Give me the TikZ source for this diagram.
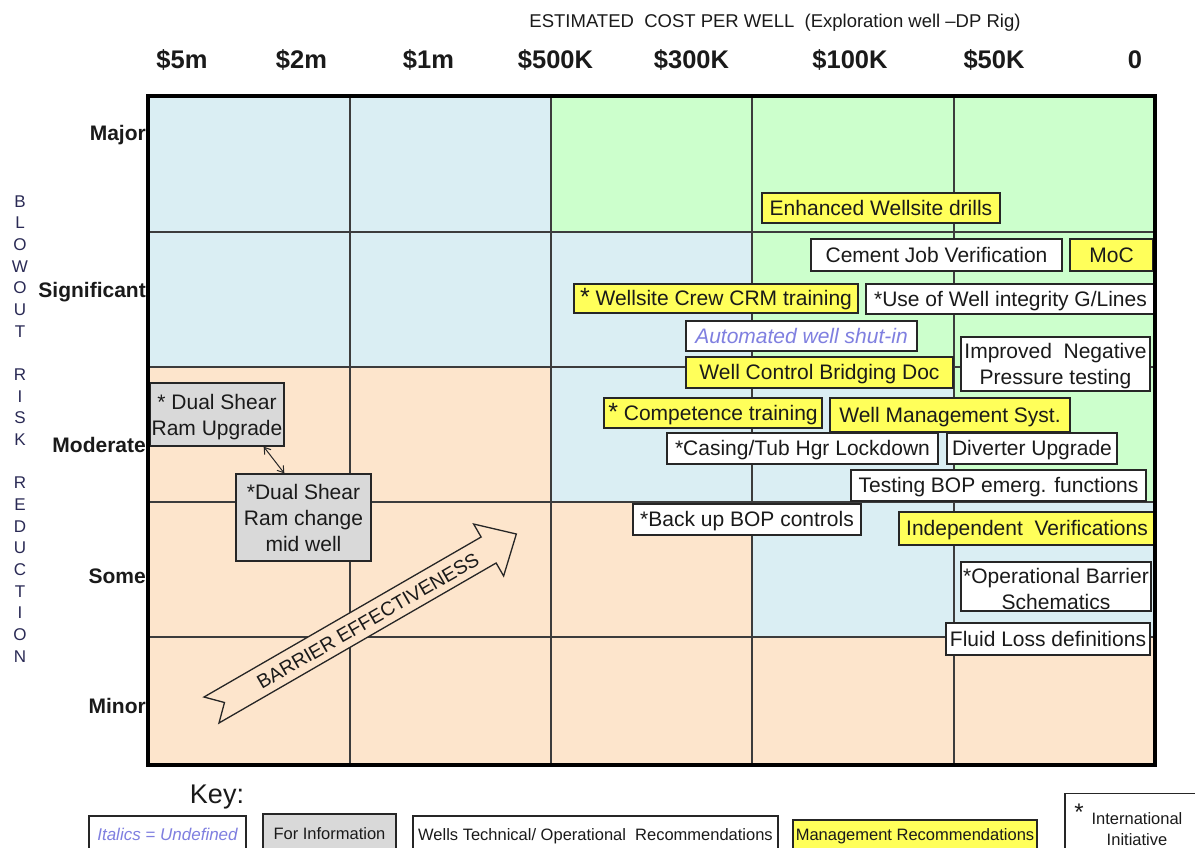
\documentclass[tikz,border=0pt]{standalone}
\usepackage{fontspec}
\setmainfont{Liberation Sans}
\usetikzlibrary{arrows.meta}
\definecolor{cblue}{HTML}{DAEEF3}
\definecolor{cgreen}{HTML}{CCFFCC}
\definecolor{cpeach}{HTML}{FDE5CC}
\definecolor{cyel}{HTML}{FFFF5A}
\definecolor{cgrey}{HTML}{D9D9D9}
\definecolor{cital}{HTML}{7F7FE0}
\definecolor{cnavy}{HTML}{2A2A55}
\definecolor{cgrid}{HTML}{3C3C3C}
\definecolor{ctext}{HTML}{1A1A1A}
\newcommand{\upstrut}{\rule{0pt}{19.5pt}}
\tikzset{
  boxbase/.style={draw=black!85, line width=1.3pt, inner sep=0pt, align=center,
    text=ctext, font=\fontsize{21}{26}\selectfont},
  box/.style={boxbase, text height=15pt, text depth=0.5pt},
  wbox/.style={box, fill=white},
  ybox/.style={box, fill=cyel},
  wboxtwo/.style={boxbase, fill=white},
  gboxtwo/.style={boxbase, fill=cgrey},
  keybase/.style={draw=black!85, line width=1.2pt, inner sep=0pt, align=center,
    text=ctext, font=\fontsize{16.5}{21}\selectfont},
  keybox/.style={keybase, text height=12pt, text depth=3.5pt},
  gridline/.style={draw=cgrid, line width=1.3pt},
  rowlab/.style={font=\fontsize{21}{24}\selectfont\bfseries, anchor=base east, inner sep=0pt, text=ctext},
  costlab/.style={font=\fontsize{25.5}{28}\selectfont\bfseries, anchor=base, inner sep=0pt, text=ctext},
  vlet/.style={font=\fontsize{17}{18}\selectfont, text=cnavy, anchor=base, inner sep=0pt},
  dbl/.style={{Straight Barb[length=6pt,width=8pt]}-{Straight Barb[length=6pt,width=8pt]}, line width=1pt, draw=black!85},
}
\begin{document}
\begin{tikzpicture}[x=1pt,y=-1pt]
\path[use as bounding box] (0,0) rectangle (1195,847);
\clip (0,0) rectangle (1195,847);
\fill[white] (0,0) rectangle (1195,847);

% cells
\fill[cblue]  (148,96)  rectangle (551,367);
\fill[cgreen] (551,96)  rectangle (1155,232);
\fill[cblue]  (551,232) rectangle (752,367);
\fill[cgreen] (752,232) rectangle (1155,367);
\fill[cpeach] (148,367) rectangle (551,502);
\fill[cblue]  (551,367) rectangle (954,502);
\fill[cgreen] (954,367) rectangle (1155,502);
\fill[cpeach] (148,502) rectangle (752,637);
\fill[cblue]  (752,502) rectangle (1155,637);
\fill[cpeach] (148,637) rectangle (1155,765);

% grid
\foreach \gx in {350,551,752,954} \draw[gridline] (\gx,96) -- (\gx,765);
\foreach \gy in {232,367,502,637} \draw[gridline] (148,\gy) -- (1155,\gy);

% title and cost labels
\node[font=\fontsize{18.5}{22}\selectfont, anchor=base, inner sep=0pt, text=ctext] (title) at (775,27)
  {ESTIMATED\ \ COST PER WELL\ \ (Exploration well –DP Rig)};
\node[costlab] (c1) at (182,68.5) {\$5m};
\node[costlab] (c2) at (301.5,68.5) {\$2m};
\node[costlab] (c3) at (428.5,68.5) {\$1m};
\node[costlab] (c4) at (555.5,68.5) {\$500K};
\node[costlab] (c5) at (691.5,68.5) {\$300K};
\node[costlab] (c6) at (850,68.5) {\$100K};
\node[costlab] (c7) at (994,68.5) {\$50K};
\node[costlab] (c8) at (1135,68.5) {0};

% row labels
\node[rowlab] (r1) at (146,140) {Major};
\node[rowlab] (r2) at (146,297) {Significant};
\node[rowlab] (r3) at (146,452) {Moderate};
\node[rowlab] (r4) at (146,583) {Some};
\node[rowlab] (r5) at (146,713) {Minor};

% vertical axis title
\foreach \l [count=\i] in {B,L,O,W,O,U,T,,R,I,S,K,,R,E,D,U,C,T,I,O,N}
  \node[vlet] (v\i) at (20,{207+(\i-1)*21.67}) {\l};

% barrier effectiveness arrow
\begin{scope}[shift={(211.5,710)}, rotate=30]
  \draw[line width=1.3pt, draw=black!85, fill=cpeach, line join=miter]
    (0,-15) -- (15,0) -- (0,15) -- (320,15) -- (320,30) -- (352,0) -- (320,-30) -- (320,-15) -- cycle;
  \node[font=\fontsize{19.5}{22}\selectfont, rotate=30, inner sep=0pt, text=ctext] (be) at (180,1) {BARRIER EFFECTIVENESS};
\end{scope}

% recommendation boxes
\node[ybox, minimum width=238, minimum height=30] (ews) at (881,208) {Enhanced Wellsite drills};
\node[wbox, minimum width=251, minimum height=32] (cjv) at (936.5,255) {Cement Job Verification};
\node[ybox, minimum width=83, minimum height=32] (moc) at (1111.5,255) {MoC};
\node[ybox, minimum width=284, minimum height=29] (crm) at (716,298.5) {{\fontsize{25}{26}\selectfont*} Wellsite Crew CRM training};
\node[wbox, minimum width=289, minimum height=30] (wig) at (1010.5,299) {*Use of Well integrity G/Lines};
\node[wbox, minimum width=231, minimum height=30, text=cital, font=\fontsize{21}{26}\selectfont\itshape] (aws) at (801.5,336) {Automated well shut-in};
\node[ybox, minimum width=267, minimum height=31] (wcb) at (819.5,372.5) {Well Control Bridging Doc};
\node[wboxtwo, minimum width=189, minimum height=54] (ineg) at (1055.5,364) {\upstrut Improved\ \ Negative\\Pressure testing};
\node[ybox, minimum width=218, minimum height=30] (comp) at (713,413) {{\fontsize{25}{26}\selectfont*} Competence training};
\node[ybox, minimum width=240, minimum height=34] (wms) at (950,415) {Well Management Syst.};
\node[wbox, minimum width=271, minimum height=31] (cas) at (802.5,448.5) {*Casing/Tub Hgr Lockdown};
\node[wbox, minimum width=170, minimum height=31] (div) at (1032,448.5) {Diverter Upgrade};
\node[wbox, minimum width=295, minimum height=31] (tbop) at (998.5,485.5) {Testing BOP emerg. functions};
\node[wbox, minimum width=228, minimum height=31] (bbop) at (747,519.5) {*Back up BOP controls};
\node[ybox, minimum width=256, minimum height=33] (iv) at (1027,528.5) {Independent\ \ Verifications};
\node[wboxtwo, minimum width=190, minimum height=49] (obs) at (1056,586.5) {\upstrut*Operational Barrier\\Schematics};
\node[wbox, minimum width=204, minimum height=32] (fld) at (1048,639) {Fluid Loss definitions};
\node[gboxtwo, minimum width=134, minimum height=63] (upg) at (217,414.5) {\upstrut* Dual Shear\\Ram Upgrade};
\node[gboxtwo, minimum width=135, minimum height=87] (mid) at (303.5,517.5) {*Dual Shear\\Ram change\\mid well};
\draw[dbl] ([xshift=-21pt]upg.south east) -- ([xshift=49pt]mid.north west);

% frame
\draw[line width=3.5pt, draw=black] (148,96) rectangle (1155,765);

% key
\node[font=\fontsize{27}{30}\selectfont, anchor=base, inner sep=0pt, text=ctext] (key) at (217,803) {Key:};
\node[keybox, fill=white, minimum width=157, minimum height=40, text=cital, font=\fontsize{17}{21}\selectfont\itshape] (kit) at (167.5,836) {Italics = Undefined};
\node[keybox, fill=cgrey, minimum width=133, minimum height=42] (kfi) at (329.5,835) {For Information};
\node[keybox, fill=white, minimum width=365, minimum height=40] (kwt) at (595.5,836) {Wells Technical/ Operational\ \ Recommendations};
\node[keybox, fill=cyel, minimum width=244, minimum height=32] (kmg) at (915,836) {Management Recommendations};
\node[keybase, fill=white, minimum width=144, minimum height=71] (kin) at (1137,829) {International\\Initiative};
\node[font=\fontsize{24}{24}\selectfont, anchor=base, inner sep=0pt, text=ctext] (kst) at (1079,820) {*};
\end{tikzpicture}
\end{document}
